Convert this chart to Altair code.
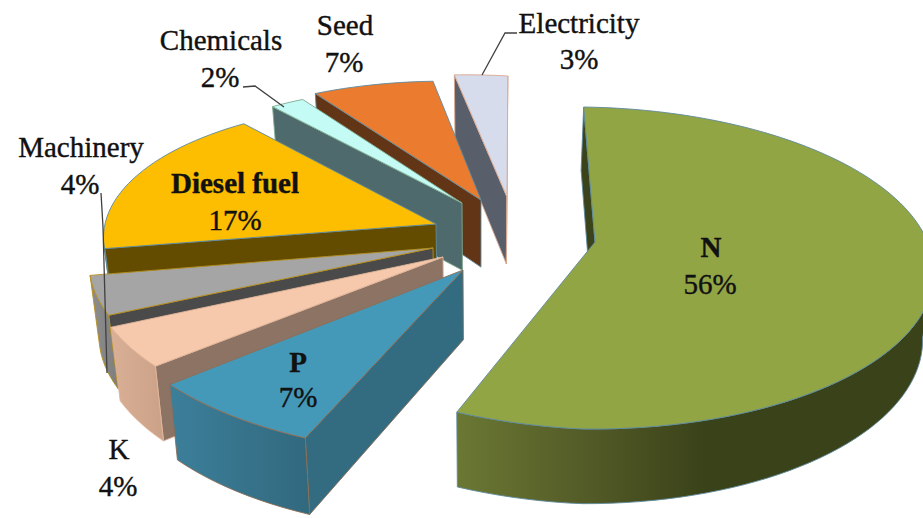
import math
import altair as alt
import pandas as pd

# Shares of the energy input, in the clockwise order of the pie
names = ["N", "P", "K", "Machinery", "Diesel fuel", "Chemicals", "Seed", "Electricity"]
shares = [56, 7, 4, 4, 17, 2, 7, 3]
first_angle = -2.0

# Where the tip of each exploded slice lands on the page
tips = {
    "N": (595, 242), "P": (463, 270), "K": (443, 257), "Machinery": (433, 248),
    "Diesel fuel": (436, 224), "Chemicals": (462, 203), "Seed": (481, 200), "Electricity": (507, 197),
}

# Radius of each slice relative to the large N slice
radii = {
    "N": 1.0, "P": 0.92, "K": 0.905, "Machinery": 0.89,
    "Diesel fuel": 0.885, "Chemicals": 0.885, "Seed": 0.92, "Electricity": 0.96,
}

# Painter's order, rear slices first
draw_order = ["N", "Electricity", "Seed", "Chemicals", "Diesel fuel", "Machinery", "K", "P"]

styles = {
    "N": dict(top="#92A545", cut="#3A431A", stroke="#5F8A9C",
              wall=[(0, "#6B7833"), (0.28, "#525A27"), (0.52, "#3A4219"), (1, "#3A4219")]),
    "P": dict(top="#4599B8", cut="#336C81", stroke="#8C6E58",
              wall=[(0, "#3C7F9A"), (1, "#31697E")]),
    "K": dict(top="#F6C9AC", cut="#8C7364", stroke="#E0B69B",
              wall=[(0, "#D9AF96"), (1, "#CBA188")]),
    "Machinery": dict(top="#A5A5A5", cut="#4A4A4A", stroke="#B48F1E",
                      wall=[(0, "#8E8E8E"), (1, "#7E7E7E")]),
    "Diesel fuel": dict(top="#FDBD00", cut="#634C00", stroke="#5F8A9C",
                        wall=[(0, "#634C00"), (1, "#634C00")]),
    "Chemicals": dict(top="#C4FBF5", cut="#4F6A6C", stroke="#7FA98F",
                      wall=[(0, "#4F6A6C"), (1, "#4F6A6C")]),
    "Seed": dict(top="#EB7C2F", cut="#613515", stroke="#5F8A9C",
                 wall=[(0, "#613515"), (1, "#613515")]),
    "Electricity": dict(top="#D6DCEC", cut="#585F6A", stroke="#D9A890",
                        wall=[(0, "#585F6A"), (1, "#585F6A")]),
}

# Text drawn on and around the pie: two lines per slice
label_lines = {
    "Chemicals": [("Chemicals", 221, 41, "normal"), ("2%", 220, 78, "normal")],
    "Seed": [("Seed", 345, 26, "normal"), ("7%", 344, 63, "normal")],
    "Electricity": [("Electricity", 579, 24, "normal"), ("3%", 579, 60, "normal")],
    "Machinery": [("Machinery", 81, 148, "normal"), ("4%", 80, 185, "normal")],
    "Diesel fuel": [("Diesel fuel", 235, 184, "bold"), ("17%", 235, 221, "normal")],
    "N": [("N", 711, 248, "bold"), ("56%", 710, 285, "normal")],
    "P": [("P", 298, 363, "bold"), ("7%", 298, 398, "normal")],
    "K": [("K", 119, 450, "normal"), ("4%", 118, 487, "normal")],
}

# Leader lines from outside labels to their slices
leaders = {
    "Chemicals": [(243, 87), (255, 86), (284, 107)],
    "Electricity": [(517, 33), (505, 33), (482, 75)],
    "Machinery": [(101, 193), (103, 227), (107, 373)],
}

# Tilted disc: a unit circle seen in perspective becomes this ellipse,
# sheared a little more on its left side than on its right
CX, CY, RX, RY = 582.0, 268.0, 352.0, 161.0
SHEAR_LEFT, SHEAR_RIGHT = 0.05, 0.012
DEPTH, DEPTH_GROWTH, DEPTH_LEAN = 68.0, 0.5, -0.025

X_SCALE = alt.Scale(domain=[0, 923], nice=False, zero=False)
Y_SCALE = alt.Scale(domain=[518, 0], nice=False, zero=False)


def shear(dx):
    return (SHEAR_LEFT if dx < 0 else SHEAR_RIGHT) * dx


def to_norm(x, y):
    return (x - CX) / RX, (y - CY - shear(x - CX)) / RY


def from_norm(u, v):
    return CX + RX * u, CY + RY * v + shear(RX * u)


PX, PY = to_norm(*tips["N"])
P2 = PX * PX + PY * PY
GAMMA_INV = math.sqrt(1 - P2)


def boost(qx, qy, px, py):
    dot = qx * px + qy * py
    parx, pary = dot / P2 * px, dot / P2 * py
    perx, pery = qx - parx, qy - pary
    den = 1 + dot
    return (perx * GAMMA_INV + parx + px) / den, (pery * GAMMA_INV + pary + py) / den


def plane_to_page(qx, qy):
    u, v = boost(qx, qy, PX, PY)
    x, y = from_norm(u, v)
    near = 1 / (1 + qx * PX + qy * PY)
    h = DEPTH * (1 + DEPTH_GROWTH * (near - 1))
    return (x, y), (x + DEPTH_LEAN * (x - 480), y + h)


def page_to_plane(x, y):
    return boost(*to_norm(x, y), -PX, -PY)


def polygon_layer(points, fill, stroke, width=0.9):
    rows = [{"x": x, "y": y, "seq": i} for i, (x, y) in enumerate(points + points[:1])]
    return (
        alt.Chart(pd.DataFrame(rows))
        .mark_line(fill=fill, stroke=stroke, strokeWidth=width, clip=True, strokeJoin="round")
        .encode(
            x=alt.X("x:Q", scale=X_SCALE, axis=None),
            y=alt.Y("y:Q", scale=Y_SCALE, axis=None),
            order=alt.Order("seq:Q"),
        )
    )


def gradient(stops):
    return {
        "gradient": "linear", "x1": 0, "y1": 0, "x2": 1, "y2": 0,
        "stops": [{"offset": o, "color": c} for o, c in stops],
    }


# Angular extent of each slice follows directly from its share
spans = {}
angle = first_angle
for name, share in zip(names, shares):
    spans[name] = (angle, angle + share * 3.6)
    angle += share * 3.6

layers = []
for name in draw_order:
    start, end = spans[name]
    style = styles[name]
    radius = radii[name]
    ox, oy = page_to_plane(*tips[name])
    steps = max(4, int((end - start) / 2))
    ring = []
    for i in range(steps + 1):
        phi = math.radians(start + (end - start) * i / steps)
        ring.append(plane_to_page(ox + radius * math.sin(phi), oy - radius * math.cos(phi)))
    tip = plane_to_page(ox, oy)

    # Walls facing the viewer are those whose top edge runs leftward on the page
    for a, b in ((tip, ring[0]), (ring[-1], tip)):
        if b[0][0] < a[0][0]:
            layers.append(polygon_layer([a[0], b[0], b[1], a[1]], style["cut"], style["stroke"]))
    run = []
    for a, b in zip(ring, ring[1:]):
        if b[0][0] < a[0][0]:
            run = run or [a]
            run.append(b)
        elif run:
            break
    if run:
        outline = [p[0] for p in run] + [p[1] for p in reversed(run)]
        layers.append(polygon_layer(outline, gradient(style["wall"]), style["stroke"]))

    top = [tip[0]] + [p[0] for p in ring]
    layers.append(polygon_layer(top, style["top"], style["stroke"]))

for name, pts in leaders.items():
    rows = [{"x": x, "y": y, "seq": i} for i, (x, y) in enumerate(pts)]
    layers.append(
        alt.Chart(pd.DataFrame(rows))
        .mark_line(stroke="#404040", strokeWidth=1.3)
        .encode(
            x=alt.X("x:Q", scale=X_SCALE, axis=None),
            y=alt.Y("y:Q", scale=Y_SCALE, axis=None),
            order=alt.Order("seq:Q"),
        )
    )

text_rows = [
    {"text": t, "x": x, "y": y, "weight": w}
    for lines in label_lines.values()
    for t, x, y, w in lines
]
for weight in ("normal", "bold"):
    layers.append(
        alt.Chart(pd.DataFrame([r for r in text_rows if r["weight"] == weight]))
        .mark_text(font="Liberation Serif", fontSize=29, fontWeight=weight, color="#111111",
                   stroke="#111111", strokeWidth=0.4, align="center", baseline="middle")
        .encode(
            x=alt.X("x:Q", scale=X_SCALE, axis=None),
            y=alt.Y("y:Q", scale=Y_SCALE, axis=None),
            text="text:N",
        )
    )

chart = (
    alt.layer(*layers)
    .properties(width=923, height=518, padding=0, background="white")
    .configure_view(stroke=None)
)

chart.save("out.html", embed_options={"renderer": "svg", "actions": False})
